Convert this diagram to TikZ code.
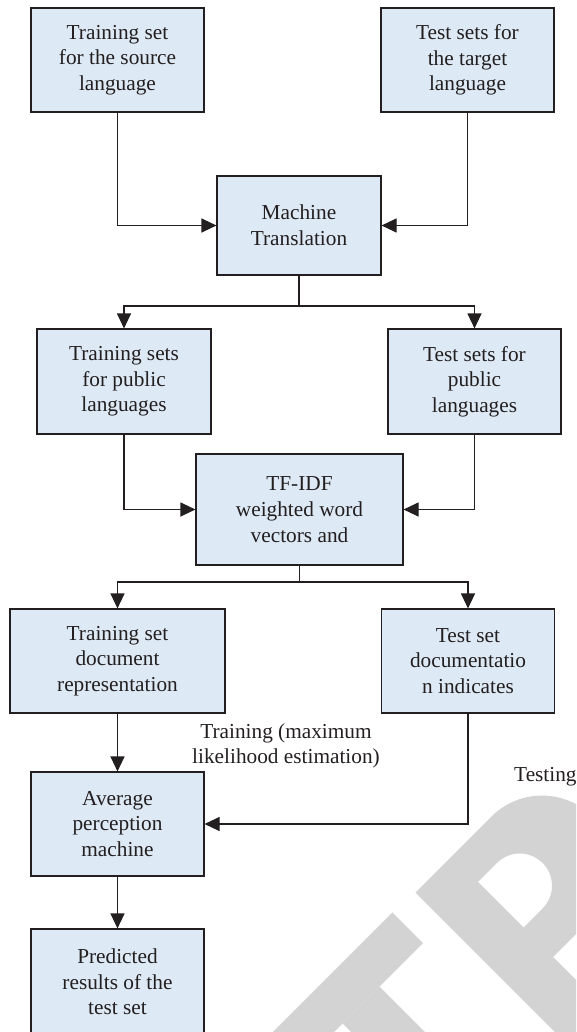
\documentclass[tikz,border=0pt]{standalone}
\usepackage{fontspec}
\setmainfont{Liberation Serif}
\usetikzlibrary{arrows.meta}
\definecolor{boxfill}{RGB}{221,233,244}
\definecolor{ink}{RGB}{35,31,32}
\definecolor{wmark}{RGB}{211,211,211}
\begin{document}
\begin{tikzpicture}[x=1pt,y=1pt,
  every node/.style={text=ink, font=\fontsize{21.3}{25.7}\selectfont},
  flowbox/.style={draw=ink, fill=boxfill, line width=1.1pt, align=center,
    inner sep=0pt, minimum height=104pt},
  conn/.style={draw=ink, line width=1.1pt, -{Triangle[length=15pt,width=14pt]}},
]
\useasboundingbox (0,0) rectangle (576,-1032);
\clip (0,0) rectangle (576,-1032);

% light grey "TP" letters, set on a 45 degree baseline
\begin{scope}[shift={(0,-1032)}, rotate=45]
  \fill[wmark] (186.7,-193.0) rectangle (362.0,-236.2);
  \fill[wmark] (248.2,-236.2) rectangle (300.5,-600);
  \fill[wmark, even odd rule]
    (392.4,-195.2) -- (500,-195.2) arc[start angle=90, end angle=-90, radius=71.4]
    -- (444.1,-338) -- (444.1,-600) -- (392.4,-600) -- cycle
    (444.1,-231.9) -- (471,-231.9) arc[start angle=90, end angle=-90, radius=32.2]
    -- (444.1,-296.3) -- cycle;
\end{scope}

% boxes
\node[flowbox, minimum width=173pt] (src) at (117.5,-60) {Training set\\for the source\\language};
\node[flowbox, minimum width=173pt] (tgt) at (467.5,-60) {Test sets for\\the target\\language};
\node[flowbox, minimum width=164pt, minimum height=99pt] (mt) at (299,-225.5) {Machine\\Translation};
\node[flowbox, minimum width=174pt, minimum height=105pt] (ptr) at (124,-381.5) {Training sets\\for public\\languages};
\node[flowbox, minimum width=173pt, minimum height=105pt] (pte) at (474.5,-381.5) {Test sets for\\public\\languages};
\node[flowbox, minimum width=207pt, minimum height=111pt] (tf) at (299.5,-509.5) {TF-IDF\\weighted word\\vectors and};
\node[flowbox, minimum width=215pt] (tdr) at (117.5,-661) {Training set\\document\\representation};
\node[flowbox, minimum width=173pt] (tdi) at (468,-661) {Test set\\documentatio\\n indicates};
\node[flowbox, minimum width=173pt] (avg) at (117.5,-824) {Average\\perception\\machine};
\node[flowbox, minimum width=173pt, minimum height=106pt] (pred) at (117.5,-982) {Predicted\\results of the\\test set};

% free labels
\node[align=center, inner sep=0pt] (lbltrain) at (286,-746) {Training (maximum\\likelihood estimation)};
\node[anchor=west, inner sep=0pt] (lbltest) at (514,-777) {Testing};

% branch points
\coordinate (j1) at (299,-306);
\coordinate (j2) at (299.5,-582);

% connectors
\draw[conn] (src.south) |- (mt.west);
\draw[conn] (tgt.south) |- (mt.east);
\draw[conn] (mt.south) -- (j1) -| (ptr.north);
\draw[conn] (j1) -| (pte.north);
\draw[conn] (ptr.south) |- (tf.west);
\draw[conn] (pte.south) |- (tf.east);
\draw[conn] (tf.south) -- (j2) -| (tdr.north);
\draw[conn] (j2) -| (tdi.north);
\draw[conn] (tdr.south) -- (avg.north);
\draw[conn] (tdi.south) |- (avg.east);
\draw[conn] (avg.south) -- (pred.north);
\end{tikzpicture}
\end{document}
